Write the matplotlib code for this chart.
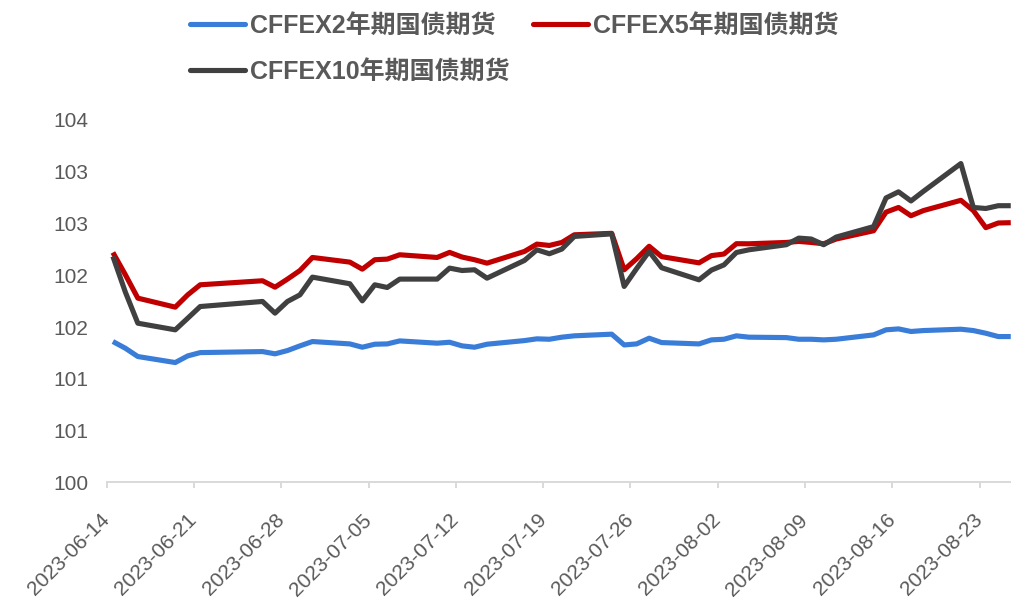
import math
from datetime import datetime, timedelta

import matplotlib
matplotlib.use("Agg")
import matplotlib.pyplot as plt
import matplotlib.dates as mdates
from matplotlib.ticker import FuncFormatter
from matplotlib.lines import Line2D

plt.rcParams['font.family'] = ['Liberation Sans', 'Noto Sans CJK SC', 'DejaVu Sans']

# trading days (holiday 06-22/06-23 skipped)
dates = ["2023-06-14", "2023-06-15", "2023-06-16", "2023-06-19", "2023-06-20",
         "2023-06-21", "2023-06-26", "2023-06-27", "2023-06-28", "2023-06-29",
         "2023-06-30", "2023-07-03", "2023-07-04", "2023-07-05", "2023-07-06",
         "2023-07-07", "2023-07-10", "2023-07-11", "2023-07-12", "2023-07-13",
         "2023-07-14", "2023-07-17", "2023-07-18", "2023-07-19", "2023-07-20",
         "2023-07-21", "2023-07-24", "2023-07-25", "2023-07-26", "2023-07-27",
         "2023-07-28", "2023-07-31", "2023-08-01", "2023-08-02", "2023-08-03",
         "2023-08-04", "2023-08-07", "2023-08-08", "2023-08-09", "2023-08-10",
         "2023-08-11", "2023-08-14", "2023-08-15", "2023-08-16", "2023-08-17",
         "2023-08-18", "2023-08-21", "2023-08-22", "2023-08-23", "2023-08-24",
         "2023-08-25"]

t2 = [101.36, 101.295, 101.215, 101.157, 101.221, 101.253, 101.263, 101.241, 101.273, 101.318,
      101.36, 101.337, 101.305, 101.334, 101.337, 101.366, 101.344, 101.353, 101.318, 101.305,
      101.334, 101.369, 101.386, 101.382, 101.402, 101.415, 101.431, 101.327, 101.337, 101.392,
      101.35, 101.337, 101.376, 101.382, 101.415, 101.402, 101.398, 101.382, 101.382, 101.376,
      101.382, 101.424, 101.473, 101.482, 101.457, 101.466, 101.479, 101.466, 101.44, 101.408,
      101.408]

t5 = [102.22, 102.005, 101.779, 101.692, 101.811, 101.908, 101.947, 101.885, 101.963, 102.046,
      102.172, 102.127, 102.059, 102.15, 102.156, 102.198, 102.172, 102.221, 102.176, 102.15,
      102.117, 102.23, 102.301, 102.288, 102.317, 102.391, 102.405, 102.053, 102.16, 102.28,
      102.18, 102.12, 102.19, 102.205, 102.305, 102.304, 102.317, 102.327, 102.317, 102.304,
      102.35, 102.43, 102.61, 102.655, 102.575, 102.625, 102.724, 102.625, 102.46, 102.505,
      102.508]

t10 = [102.182, 101.837, 101.537, 101.473, 101.585, 101.698, 101.747, 101.634, 101.747, 101.811,
       101.982, 101.918, 101.753, 101.908, 101.882, 101.963, 101.963, 102.069, 102.046, 102.053,
       101.972, 102.143, 102.246, 102.208, 102.253, 102.375, 102.40, 101.892, 102.065, 102.23,
       102.073, 101.956, 102.05, 102.10, 102.22, 102.246, 102.295, 102.359, 102.35, 102.295,
       102.369, 102.47, 102.747, 102.806, 102.718, 102.811, 103.079, 102.655, 102.645, 102.672,
       102.672]

series_labels = ["CFFEX2年期国债期货", "CFFEX5年期国债期货", "CFFEX10年期国债期货"]
colors = ["#3A7DD8", "#C00000", "#404040"]

# points sit in the middle of each day slot
x = [datetime.strptime(d, "%Y-%m-%d") + timedelta(hours=12) for d in dates]
start = datetime(2023, 6, 14)

fig = plt.figure(figsize=(10.12, 6.02), dpi=100)
ax = fig.add_axes([0.1054, 0.1988, 0.8946, 0.6019])

for vals, c in zip([t2, t5, t10], colors):
    ax.plot(x, vals, color=c, lw=3.7, solid_joinstyle='round', solid_capstyle='butt')

ax.set_xlim(start, start + timedelta(days=72.6))
ax.set_ylim(100, 103.5)

ax.set_xticks([start + timedelta(days=7 * k) for k in range(11)])
ax.xaxis.set_major_formatter(mdates.DateFormatter("%Y-%m-%d"))
ax.set_yticks([100 + 0.5 * k for k in range(8)])
# excel style rounding of the labels (half up)
ax.yaxis.set_major_formatter(FuncFormatter(lambda v, p: "%d" % math.floor(v + 0.5)))

for s in ['left', 'right', 'top']:
    ax.spines[s].set_visible(False)
ax.spines['bottom'].set_color('#D9D9D9')
ax.spines['bottom'].set_linewidth(1.4)

ax.tick_params(axis='x', direction='out', length=4, width=1.4, color='#D9D9D9',
               labelsize=15, labelcolor='#595959', pad=21)
ax.tick_params(axis='y', length=0, pad=13, labelsize=15, labelcolor='#595959')
for lbl in ax.get_xticklabels():
    lbl.set_rotation(45)
    lbl.set_ha('right')
    lbl.set_va('center')
    lbl.set_rotation_mode('anchor')

handles = [Line2D([], [], color=c, lw=3.7, solid_capstyle='round') for c in colors]
leg_font = {'family': ['Liberation Sans', 'Noto Sans CJK SC'], 'weight': 'bold', 'size': 18}

leg1 = fig.legend(handles[:2], series_labels[:2], loc='center left',
                  bbox_to_anchor=(190 / 1012, 1 - 26 / 602), ncol=2, frameon=False,
                  prop=leg_font, handlelength=2.2, handletextpad=0.2, columnspacing=1.5,
                  borderpad=0, borderaxespad=0)
for t in leg1.get_texts():
    t.set_color('#595959')
leg2 = fig.legend(handles[2:], series_labels[2:], loc='center left',
                  bbox_to_anchor=(190 / 1012, 1 - 72 / 602), ncol=1, frameon=False,
                  prop=leg_font, handlelength=2.2, handletextpad=0.2,
                  borderpad=0, borderaxespad=0)
for t in leg2.get_texts():
    t.set_color('#595959')

fig.savefig("out.png", dpi=100)
